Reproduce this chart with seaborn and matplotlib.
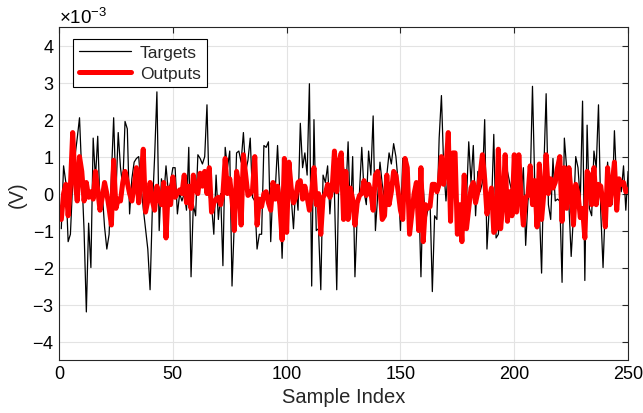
import numpy as np
import pandas as pd
import matplotlib
matplotlib.use('Agg')
import matplotlib.pyplot as plt
import seaborn as sns

# Sample index 1..250
sample_index = np.arange(1, 251)

# Targets (values in units of 1e-3 V)
targets_mv = [
    -0.95, 0.75, 0.3, -1.3, -1.1, 0.3, 1.0, 1.5, 2.05, 0.5,
    -1.0, -3.2, -0.8, -2.0, 1.5, 0.4, 1.55, -0.3, 0.0, -0.9,
    -1.5, -1.1, 0.5, 2.05, 0.0, 1.65, 0.7, 0.2, 1.95, 1.75,
    -0.55, 0.4, 0.85, 0.95, 1.0, 0.2, -0.4, -0.95, -1.5, -2.6,
    -0.4, 1.0, 2.75, -1.0, 0.4, -0.1, 0.75, 0.05, 0.3, 0.7,
    0.7, -0.55, 0.0, -0.2, 0.0, -0.45, 1.25, -2.25, -0.3, -0.6,
    1.05, 0.95, 0.8, 1.0, 2.4, -0.1, -0.3, -1.1, 0.5, -0.7,
    0.0, -1.95, 1.25, 0.7, 1.15, -2.5, -0.8, 1.1, 1.15, 0.85,
    1.65, 0.6, 0.9, 1.5, -0.1, -0.2, -1.5, -1.1, -1.1, 1.3,
    1.25, 1.4, -1.3, 0.2, 0.1, 1.3, 0.0, -1.75, 0.1, -0.3,
    0.5, -0.1, -0.95, 0.2, -0.45, 1.9, 0.7, 1.1, 0.5, 2.97,
    -2.5, 2.0, -1.0, -0.95, -2.6, 0.5, 0.3, 0.75, -0.55, 0.4,
    0.0, -2.6, 0.7, 0.85, 0.7, 0.0, 1.4, -0.65, 1.0, -2.25,
    -0.6, 0.05, 1.25, 0.05, -0.3, 1.15, 0.5, 2.1, -1.0, -0.05,
    0.85, 0.25, -0.15, 0.5, 1.1, 0.8, 1.35, 1.0, 0.3, -1.0,
    0.95, 0.3, 0.4, -1.05, -0.5, 0.15, 0.3, 0.1, -2.25, 0.2,
    -0.75, -0.45, -0.2, -2.65, -0.6, -0.7, 1.5, 2.65, 0.7, -0.2,
    0.7, 0.85, 0.5, 0.7, -0.15, -0.6, -0.95, -0.7, -0.2, 1.4,
    0.3, 1.3, -0.6, 0.6, 0.05, 0.3, 2.0, -1.5, -0.4, -0.35,
    1.6, -1.2, -1.1, -0.3, 0.2, -0.15, 0.6, 0.3, 0.05, 0.3,
    -0.4, 0.05, -0.05, 0.7, -1.4, -0.2, 0.25, 2.9, 0.25, -0.95,
    -0.4, -2.15, 0.7, 2.7, -0.3, -0.7, 0.95, -0.2, -0.15, -0.2,
    -2.4, 1.5, 0.7, -0.3, -1.7, -0.6, 1.0, 0.7, -0.2, 2.5,
    -2.35, 1.85, -0.4, -0.6, 1.15, 0.7, 2.4, -0.5, -2.0, -0.3,
    0.85, -0.05, -0.3, 1.7, 0.2, 0.4, 0.05, 0.75, -0.45, 0.6,
]

# Outputs (values in units of 1e-3 V)
outputs_mv = [
    -0.7, 0.0, 0.25, -0.6, 0.2, 1.65, 0.4, -0.2, 1.0, 0.6,
    -0.2, 0.3, -0.1, 0.05, -0.15, 0.6, 0.1, -0.45, -0.1, 0.3,
    0.0, -0.4, -0.85, 0.9, -0.4, -0.15, -0.2, 0.3, 0.6, 0.3,
    0.0, -0.2, 0.2, 0.7, -0.25, 0.45, 1.2, -0.5, -0.2, 0.3,
    -0.2, -0.45, 0.2, -0.15, -0.3, 0.3, -1.2, 0.15, -0.3, 0.45,
    -0.1, 0.0, 0.1, 0.0, 0.5, -0.25, 0.2, -0.4, 0.5, 0.1,
    0.0, 0.55, 0.2, 0.6, 0.0, 0.7, -0.5, -0.25, -0.15, -0.1,
    -0.3, 0.0, 0.95, 0.0, 0.4, -0.15, -1.0, 0.6, 0.25, -0.85,
    1.05, 0.5, -0.05, 0.0, 0.1, 1.0, -0.85, -0.15, -0.35, 0.0,
    0.05, -0.25, -0.45, 0.3, -0.15, 0.2, -0.3, -1.25, 0.95, -1.05,
    0.85, 0.15, -0.25, -0.1, 0.3, 0.35, -0.15, 0.2, -0.1, -0.45,
    0.05, 0.7, -0.3, 0.0, -1.1, -0.1, 0.0, 0.25, -0.1, 0.15,
    1.15, 0.05, 0.85, 1.1, -0.7, 0.6, -0.7, 0.15, -0.15, -0.85,
    -0.25, -0.05, 0.0, 0.35, -0.05, 0.25, 0.05, -0.45, 0.5, 0.6,
    0.15, -0.7, -0.6, 0.5, -0.3, 0.05, 0.6, 0.5, 0.05, -0.45,
    -0.7, 0.95, 0.7, -1.1, -0.55, 0.0, 0.3, -1.0, 0.7, -1.3,
    -0.3, -0.4, -0.35, 0.25, 0.25, 0.05, 0.25, 1.0, 0.25, 0.7,
    1.65, -0.75, 1.1, 1.1, -1.1, -0.3, -1.3, 0.5, -0.95, -0.4,
    0.15, 0.3, -0.25, 0.05, 0.5, 1.05, 0.4, -0.55, -0.15, 0.15,
    -1.05, -0.95, 1.2, -0.95, -0.25, 1.05, -0.75, 0.05, -0.6, 1.05,
    -0.5, 1.05, -0.1, -0.85, -0.1, -0.05, 0.75, -0.3, 0.35, -0.9,
    0.8, -0.7, 0.0, 1.05, 0.0, 0.4, 0.15, 0.3, 0.7, 1.0,
    -0.75, 0.7, -0.4, 0.7, 0.0, -0.85, 0.25, 0.0, -0.65, -0.4,
    -1.2, 0.6, 0.5, -0.3, 0.7, -0.3, 0.25, 0.2, -0.3, -0.9,
    0.7, -0.3, 0.25, 0.85, -0.45, 0.4, 0.25, 0.3, 0.05, 0.1,
]

x_ticks = [0, 50, 100, 150, 200, 250]
y_ticks_mv = [-4, -3, -2, -1, 0, 1, 2, 3, 4]

df = pd.DataFrame({
    'Sample Index': sample_index,
    'Targets': np.array(targets_mv) * 1e-3,
    'Outputs': np.array(outputs_mv) * 1e-3,
})

# MATLAB-like look
sns.set_style('white')
plt.rcParams['font.family'] = ['Liberation Sans', 'DejaVu Sans']
plt.rcParams['mathtext.default'] = 'regular'
plt.rcParams['axes.unicode_minus'] = False

fig = plt.figure(figsize=(6.43, 4.14), dpi=100)
ax = fig.add_axes([0.0918, 0.128, 0.885, 0.804])

sns.lineplot(data=df, x='Sample Index', y='Targets', color='black',
             linewidth=0.9, label='Targets', ax=ax)
sns.lineplot(data=df, x='Sample Index', y='Outputs', color='#ff0000',
             linewidth=3.6, label='Outputs', ax=ax)

ax.set_xlim(0, 250)
ax.set_ylim(-4.5e-3, 4.5e-3)
ax.set_xticks(x_ticks)
ax.set_yticks(np.array(y_ticks_mv) * 1e-3)
ax.ticklabel_format(axis='y', style='sci', scilimits=(-3, -3), useMathText=True)
ax.yaxis.get_offset_text().set_fontsize(13.5)

ax.grid(True, color='#e3e3e3', linewidth=0.8)
ax.set_axisbelow(True)
for side in ['left', 'right', 'top', 'bottom']:
    ax.spines[side].set_visible(True)
    ax.spines[side].set_color('#262626')
    ax.spines[side].set_linewidth(0.8)
ax.tick_params(axis='both', which='both', direction='in', length=4,
               top=True, right=True, labelsize=13, colors='#262626',
               labelcolor='black', width=0.8)

ax.set_xlabel('Sample Index', fontsize=14.5, labelpad=4)
ax.set_ylabel('(V)', fontsize=14.5, labelpad=4)

leg = ax.legend(loc='upper left', bbox_to_anchor=(0.025, 0.965),
                borderaxespad=0, fontsize=12.5, frameon=True, fancybox=False,
                handlelength=3.0, handletextpad=0.5, labelspacing=0.35,
                borderpad=0.35)
leg.get_frame().set_edgecolor('black')
leg.get_frame().set_linewidth(0.8)
leg.get_frame().set_alpha(1)

fig.savefig('out.png', dpi=100)
